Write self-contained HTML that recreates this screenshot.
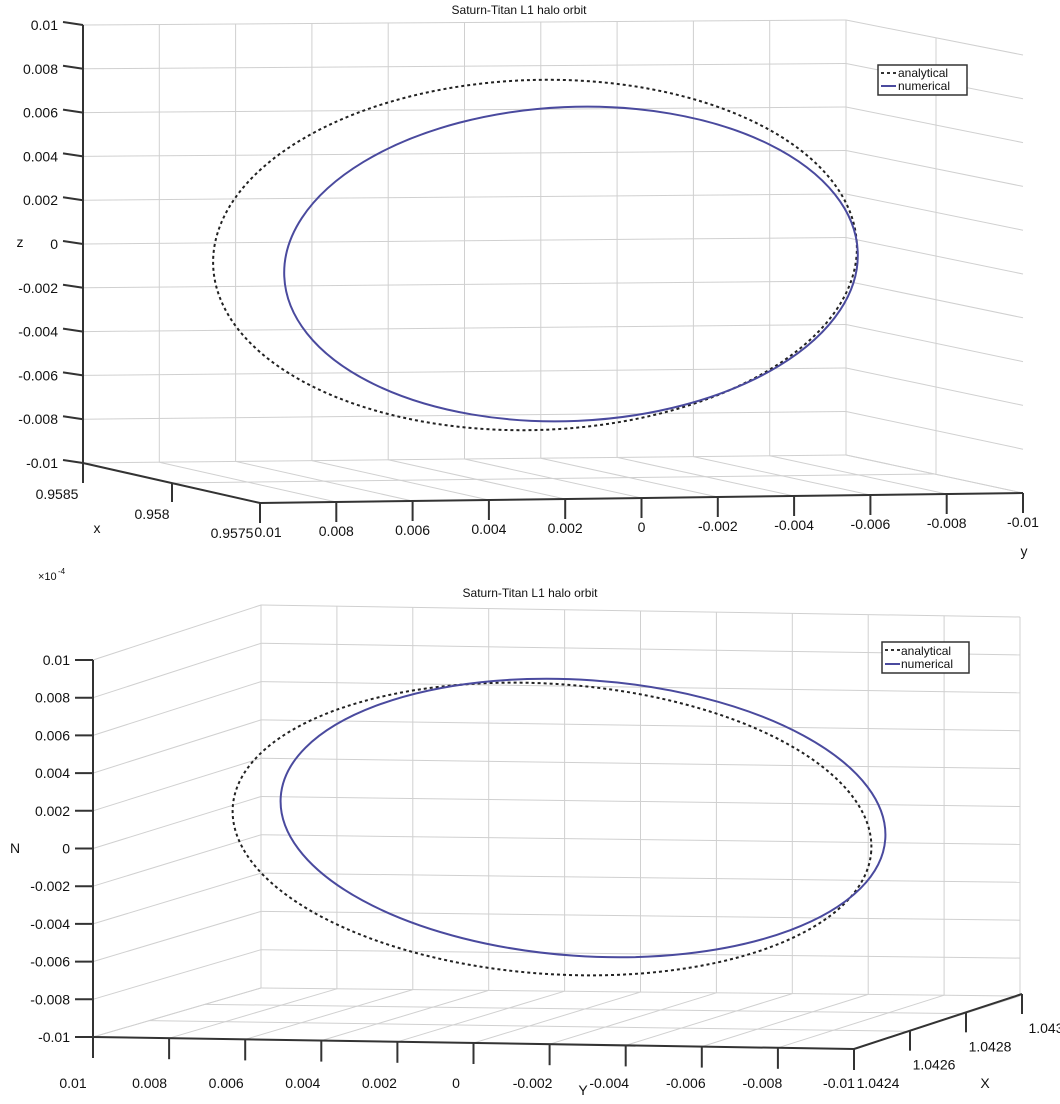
<!DOCTYPE html>
<html><head><meta charset="utf-8"><style>
html,body{margin:0;padding:0;background:#fff;}
svg text{font-family:"Liberation Sans",sans-serif;font-size:14px;fill:#111;}
</style></head><body>
<svg id="s" width="1060" height="1099" xmlns="http://www.w3.org/2000/svg">
<g id="g1" stroke="#d0d0d0" stroke-width="1" fill="none"></g>
<g id="g2" stroke="#333" stroke-width="2" fill="none"></g>
<g id="t"></g>

<!-- Top chart curves -->
<ellipse cx="535" cy="255" rx="322" ry="175" transform="rotate(-1.8 535 255)" fill="none" stroke="#222" stroke-width="2" stroke-dasharray="3 3"/>
<ellipse cx="571" cy="264" rx="287" ry="157" transform="rotate(-2.5 571 264)" fill="none" stroke="#4a4a9e" stroke-width="2"/>
<!-- Bottom chart curves -->
<ellipse cx="552" cy="829" rx="320" ry="145" transform="rotate(4 552 829)" fill="none" stroke="#222" stroke-width="2" stroke-dasharray="3 3"/>
<ellipse cx="583" cy="818" rx="303" ry="138" transform="rotate(4 583 818)" fill="none" stroke="#4a4a9e" stroke-width="2"/>

<!-- legends -->
<rect x="878" y="65" width="89" height="30" fill="#fff" stroke="#333" stroke-width="1.5"/>
<line x1="881" y1="73" x2="896" y2="73" stroke="#333" stroke-width="2" stroke-dasharray="3 3"/>
<line x1="881" y1="86" x2="896" y2="86" stroke="#4a4a9e" stroke-width="2"/>
<text x="898" y="77" style="font-size:12px">analytical</text>
<text x="898" y="90" style="font-size:12px">numerical</text>
<rect x="882" y="642" width="87" height="31" fill="#fff" stroke="#333" stroke-width="1.5"/>
<line x1="885" y1="650" x2="900" y2="650" stroke="#333" stroke-width="2" stroke-dasharray="3 3"/>
<line x1="885" y1="664" x2="900" y2="664" stroke="#4a4a9e" stroke-width="2"/>
<text x="901" y="655" style="font-size:12px">analytical</text>
<text x="901" y="668" style="font-size:12px">numerical</text>
</svg>
<script>
var g1=document.getElementById('g1'),g2=document.getElementById('g2'),t=document.getElementById('t');
var NS='http://www.w3.org/2000/svg';
function L(g,a,b,c,d){var e=document.createElementNS(NS,'line');e.setAttribute('x1',a);e.setAttribute('y1',b);e.setAttribute('x2',c);e.setAttribute('y2',d);g.appendChild(e);}
function T(x,y,s,anchor,size){var e=document.createElementNS(NS,'text');e.setAttribute('x',x);e.setAttribute('y',y);e.setAttribute('text-anchor',anchor||'middle');if(size)e.style.fontSize=size+'px';e.textContent=s;t.appendChild(e);}
function lerp(a,b,f){return a+(b-a)*f;}
// ---- TOP CHART ----
// back wall corners: TL(83,25) TR(846,20) BL(83,463) BR(846,455)
// right wall: TR2(1023,55) BR2(1023,493)
// floor front: (260,503)-(1023,493)
for(var i=0;i<=10;i++){
  var f=i/10;
  var yl=lerp(25,463,f), yr=lerp(20,455,f), yr2=lerp(55,493,f);
  L(g1,83,yl,846,yr); L(g1,846,yr,1023,yr2);
  var x=lerp(83,846,f), xt=lerp(20,455,0), 
      ytop=lerp(25,20,f), ybot=lerp(463,455,f);
  L(g1,x,ytop,x,ybot);
  // floor lines back->front
  var fx=lerp(260,1023,f), fy=lerp(503,493,f);
  L(g1,x,ybot,fx,fy);
}
L(g1,936,lerp(20,55,0.5),936,lerp(455,493,0.5));
for(var j=1;j<2;j++){var f=j/2;L(g1,lerp(83,260,f),lerp(463,503,f),lerp(846,1023,f),lerp(455,493,f));}
// axes
L(g2,83,25,83,463);L(g2,83,463,260,503);L(g2,260,503,1023,493);
var zl=['0.01','0.008','0.006','0.004','0.002','0','-0.002','-0.004','-0.006','-0.008','-0.01'];
for(var i=0;i<=10;i++){var y=lerp(25,463,i/10);L(g2,63,y-3,83,y);T(58,y+5,zl[i],'end');}
var yl2=['0.01','0.008','0.006','0.004','0.002','0','-0.002','-0.004','-0.006','-0.008','-0.01'];
for(var i=0;i<=10;i++){var x=lerp(260,1023,i/10),y=lerp(503,493,i/10);L(g2,x,y,x,y+20);T(x+(i==0?8:0),y+34,yl2[i]);}
L(g2,83,463,83,483);L(g2,172,483,172,502);
T(57,499,'0.9585');T(152,519,'0.958');T(232,538,'0.9575');
T(97,533,'x');T(1024,556,'y');T(20,247,'z');
T(519,14,'Saturn-Titan L1 halo orbit','middle',12);
// ---- BOTTOM CHART ----
// left wall: (93,660+37.7i) -> (261,605+38.3i)
// back wall: left x261 y605..988, right x1020 y617..996
for(var i=0;i<=10;i++){
  var f=i/10;
  var ya=lerp(660,1037,f), yb=lerp(605,988,f), yc=lerp(617,996,f);
  L(g1,93,ya,261,yb); L(g1,261,yb,1020,yc);
  var x=lerp(261,1020,f), yt=lerp(605,617,f), ybt=lerp(988,996,f);
  L(g1,x,yt,x,ybt);
  var fx=lerp(93,854,f), fy=lerp(1037,1049,f);
  L(g1,fx,fy,x,ybt);
}
for(var j=1;j<3;j++){var f=j/3;L(g1,lerp(93,261,f),lerp(1037,988,f),lerp(854,1020,f),lerp(1049,996,f));}
L(g2,93,660,93,1037);L(g2,93,1037,854,1049);L(g2,854,1049,1022,994);
var nl=['0.01','0.008','0.006','0.004','0.002','0','-0.002','-0.004','-0.006','-0.008','-0.01'];
for(var i=0;i<=10;i++){var y=lerp(660,1037,i/10);L(g2,75,y,93,y);T(70,y+5,nl[i],'end');}
for(var i=0;i<=10;i++){var x=lerp(93,854,i/10),y=lerp(1037,1049,i/10);L(g2,x,y,x,y+21);T(x-20+i*0.5,1088,yl2[i]);}
var xl=['1.0424','1.0426','1.0428','1.043'];
for(var i=0;i<4;i++){var x=lerp(854,1022,i/3),y=lerp(1049,994,i/3);L(g2,x,y,x,y+20);T(x+24,y+39,xl[i]);}
T(985,1088,'X');T(583,1095,'Y');T(15,853,'N');
T(530,597,'Saturn-Titan L1 halo orbit','middle',12);
T(38,580,'×10','start',11);T(58,574,'-4','start',8);
</script>
</body></html>
